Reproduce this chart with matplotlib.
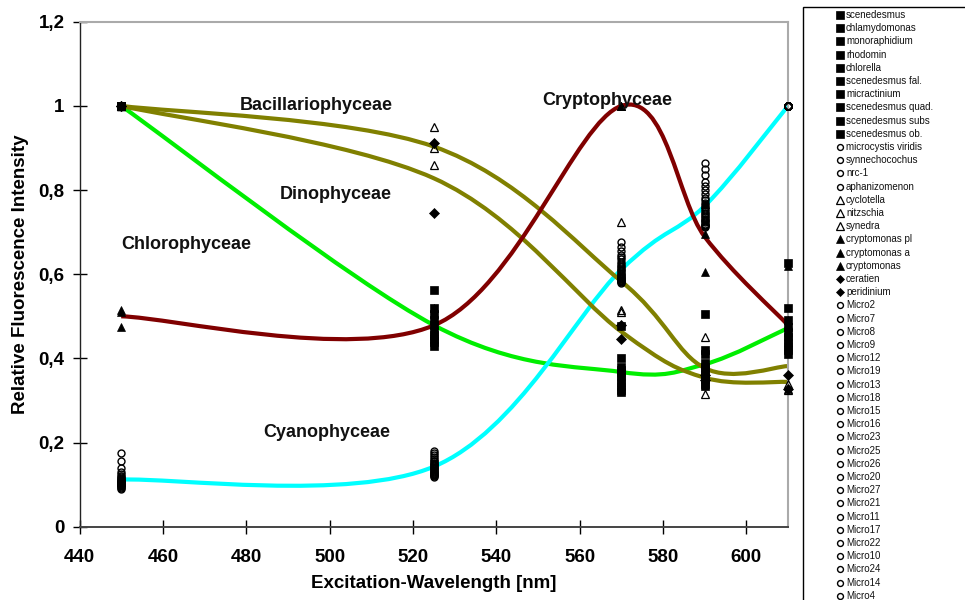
import numpy as np
import matplotlib
matplotlib.use('Agg')
import matplotlib.pyplot as plt
from matplotlib.path import Path
from matplotlib.patches import PathPatch, Rectangle
from matplotlib.lines import Line2D

plt.rcParams['font.family'] = ['Liberation Sans', 'DejaVu Sans']

wavelengths = [450, 525, 570, 590, 610]

# relative fluorescence per species at each excitation wavelength
chloro_names = ['scenedesmus', 'chlamydomonas', 'monoraphidium', 'rhodomin', 'chlorella',
                'scenedesmus fal.', 'micractinium', 'scenedesmus quad.', 'scenedesmus subs',
                'scenedesmus ob.']
chloro_values = [
    [1.0, 0.490, 0.372, 0.390, 0.475],
    [1.0, 0.562, 0.478, 0.505, 0.626],
    [1.0, 0.445, 0.335, 0.350, 0.430],
    [1.0, 0.520, 0.400, 0.420, 0.520],
    [1.0, 0.465, 0.355, 0.360, 0.450],
    [1.0, 0.430, 0.320, 0.335, 0.410],
    [1.0, 0.505, 0.380, 0.410, 0.490],
    [1.0, 0.455, 0.345, 0.370, 0.440],
    [1.0, 0.480, 0.365, 0.380, 0.460],
    [1.0, 0.438, 0.325, 0.340, 0.420],
]

cyano_names = ['microcystis viridis', 'synnechocochus', 'nrc-1', 'aphanizomenon']
cyano_values = [
    [0.112, 0.148, 0.610, 0.760, 1.0],
    [0.174, 0.180, 0.676, 0.864, 1.0],
    [0.101, 0.130, 0.588, 0.729, 1.0],
    [0.156, 0.165, 0.640, 0.820, 1.0],
]

bacillario_names = ['cyclotella', 'nitzschia', 'synedra']
bacillario_values = [
    [1.0, 0.950, 0.724, 0.450, 0.480],
    [1.0, 0.900, 0.515, 0.366, 0.340],
    [1.0, 0.860, 0.510, 0.315, 0.325],
]

crypto_names = ['cryptomonas pl', 'cryptomonas a', 'cryptomonas']
crypto_values = [
    [0.515, 0.520, 1.0, 0.696, 0.327],
    [0.510, 0.460, 1.0, 0.605, 0.490],
    [0.475, 0.455, 1.0, 0.766, 0.620],
]

dino_names = ['ceratien', 'peridinium']
dino_values = [
    [1.0, 0.911, 0.480, 0.360, 0.360],
    [1.0, 0.745, 0.447, 0.348, 0.328],
]

micro_names = ['Micro2', 'Micro7', 'Micro8', 'Micro9', 'Micro12', 'Micro19', 'Micro13',
               'Micro18', 'Micro15', 'Micro16', 'Micro23', 'Micro25', 'Micro26', 'Micro20',
               'Micro27', 'Micro21', 'Micro11', 'Micro17', 'Micro22', 'Micro10', 'Micro24',
               'Micro14', 'Micro4']
micro_values = [
    [0.105, 0.139, 0.601, 0.746, 1.0],
    [0.139, 0.175, 0.665, 0.850, 1.0],
    [0.098, 0.123, 0.584, 0.718, 1.0],
    [0.118, 0.155, 0.625, 0.782, 1.0],
    [0.100, 0.135, 0.596, 0.738, 1.0],
    [0.130, 0.170, 0.655, 0.835, 1.0],
    [0.107, 0.142, 0.607, 0.755, 1.0],
    [0.093, 0.120, 0.582, 0.714, 1.0],
    [0.125, 0.160, 0.645, 0.810, 1.0],
    [0.103, 0.137, 0.598, 0.742, 1.0],
    [0.113, 0.150, 0.616, 0.770, 1.0],
    [0.099, 0.126, 0.586, 0.726, 1.0],
    [0.120, 0.157, 0.630, 0.790, 1.0],
    [0.106, 0.140, 0.604, 0.750, 1.0],
    [0.090, 0.118, 0.580, 0.712, 1.0],
    [0.115, 0.152, 0.620, 0.776, 1.0],
    [0.102, 0.133, 0.594, 0.735, 1.0],
    [0.108, 0.144, 0.612, 0.765, 1.0],
    [0.097, 0.125, 0.585, 0.723, 1.0],
    [0.110, 0.146, 0.635, 0.800, 1.0],
    [0.104, 0.131, 0.592, 0.732, 1.0],
    [0.095, 0.122, 0.583, 0.720, 1.0],
    [0.100, 0.128, 0.590, 0.716, 1.0],
]

# marker styles per algal class
square = dict(marker='s', ms=6.2, mfc='black', mec='black', mew=0.5)
circle = dict(marker='o', ms=5.0, mfc='none', mec='black', mew=1.0)
tri_open = dict(marker='^', ms=6.0, mfc='none', mec='black', mew=0.9)
tri_fill = dict(marker='^', ms=6.0, mfc='black', mec='black', mew=0.5)
diamond = dict(marker='D', ms=4.6, mfc='black', mec='black', mew=0.5)

series = ([(n, v, square) for n, v in zip(chloro_names, chloro_values)] +
          [(n, v, circle) for n, v in zip(cyano_names, cyano_values)] +
          [(n, v, tri_open) for n, v in zip(bacillario_names, bacillario_values)] +
          [(n, v, tri_fill) for n, v in zip(crypto_names, crypto_values)] +
          [(n, v, diamond) for n, v in zip(dino_names, dino_values)] +
          [(n, v, circle) for n, v in zip(micro_names, micro_values)])

# class averages drawn as smoothed curves
class_curves = [
    (np.mean(chloro_values, axis=0), '#00ee00'),
    (np.mean(cyano_values + micro_values, axis=0), '#00ffff'),
    (np.mean(bacillario_values, axis=0), '#808000'),
    (np.mean(dino_values, axis=0), '#808000'),
    (np.mean(crypto_values, axis=0), '#800000'),
]

class_labels = [
    ('Bacillariophyceae', 496.7, 1.002),
    ('Cryptophyceae', 566.7, 1.012),
    ('Dinophyceae', 501.5, 0.790),
    ('Chlorophyceae', 465.5, 0.671),
    ('Cyanophyceae', 499.4, 0.223),
]


def smooth_path(xs, ys):
    # spreadsheet-style smoothing: cubic Bezier through each point
    pts = np.column_stack([xs, ys]).astype(float)
    padded = np.vstack([pts[0], pts, pts[-1]])
    verts = [pts[0]]
    codes = [Path.MOVETO]
    for i in range(len(pts) - 1):
        p0, p1, p2, p3 = padded[i], padded[i + 1], padded[i + 2], padded[i + 3]
        verts += [p1 + (p2 - p0) / 6, p2 - (p3 - p1) / 6, p2]
        codes += [Path.CURVE4] * 3
    return Path(verts, codes)


fig = plt.figure(figsize=(9.65, 6.0), dpi=100)
ax = fig.add_axes([0.0824, 0.1222, 0.7342, 0.8416])

for values, color in class_curves:
    ax.add_patch(PathPatch(smooth_path(wavelengths, values), fill=False,
                           edgecolor=color, lw=3.0, zorder=2, capstyle='butt'))

for name, values, style in series:
    ax.plot(wavelengths, values, ls='none', zorder=3, clip_on=False, **style)

for text, x, y in class_labels:
    ax.text(x, y, text, ha='center', va='center', fontsize=13, fontweight='bold',
            color='#111111', zorder=4)

ax.set_xlim(440, 610)
ax.set_ylim(0, 1.2)
ax.set_xticks(np.arange(440, 601, 20))
ax.set_yticks(np.arange(0, 1.21, 0.2))
ax.set_yticklabels(['0', '0,2', '0,4', '0,6', '0,8', '1', '1,2'])
ax.tick_params(direction='inout', length=9.5, width=1.0, labelsize=13.5)
ax.tick_params(axis='x', pad=11)
ax.tick_params(axis='y', pad=6)
for lab in ax.get_xticklabels() + ax.get_yticklabels():
    lab.set_fontweight('bold')

ax.spines['left'].set_color('#222222')
ax.spines['bottom'].set_color('#444444')
ax.spines['left'].set_linewidth(1.0)
ax.spines['bottom'].set_linewidth(1.4)
ax.spines['top'].set_color('#aaaaaa')
ax.spines['right'].set_color('#aaaaaa')
ax.spines['top'].set_linewidth(1.5)
ax.spines['right'].set_linewidth(1.5)

ax.set_xlabel('Excitation-Wavelength [nm]', fontsize=13.5, fontweight='bold', labelpad=7)
ax.set_ylabel('Relative Fluorescence Intensity', fontsize=13.5, fontweight='bold', labelpad=7)

# legend column on the right, one row per species
W, H = 965.0, 600.0
fig.add_artist(Rectangle((803 / W, -0.05), 0.3, (H - 7) / H + 0.05, transform=fig.transFigure,
                         fill=False, edgecolor='black', lw=1.0, clip_on=False))
for i, (name, values, style) in enumerate(series):
    y = 1 - (15 + 13.2 * i) / H
    st = dict(style)
    st['ms'] = st['ms'] * 0.85
    fig.add_artist(Line2D([840 / W], [y], ls='none', transform=fig.transFigure, **st))
    fig.text(846 / W, y, name, fontsize=7.0, va='center', ha='left', color='#111111')

fig.savefig('out.png', dpi=100)
